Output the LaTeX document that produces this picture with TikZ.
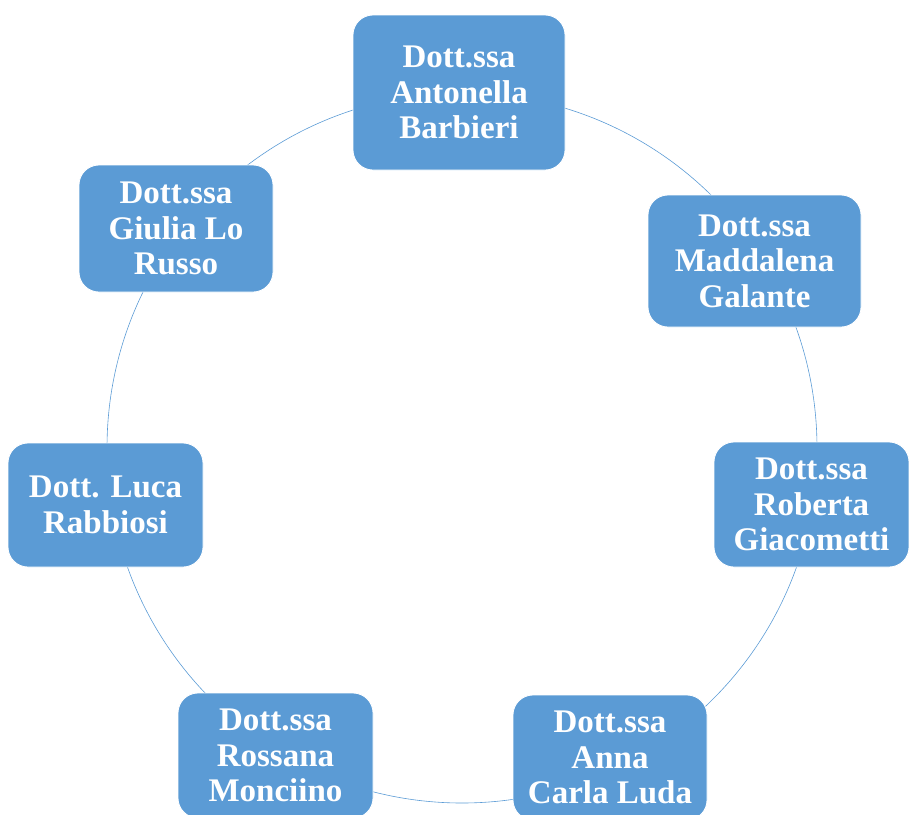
\documentclass[tikz,border=0pt]{standalone}
\usepackage{fontspec}
\setmainfont{Liberation Serif}
\usepackage{tikz}

\definecolor{boxblue}{HTML}{5B9BD5}

\tikzset{
  member/.style={rectangle, rounded corners=20pt, fill=boxblue, draw=white, line width=0.8pt,
    text=white, font=\fontsize{33}{35.5}\selectfont\bfseries, align=center, inner sep=0pt},
  ring/.style={draw=boxblue, line width=0.6pt}
}

\begin{document}
\begin{tikzpicture}[x=1pt,y=-1pt]
\clip (0,0) rectangle (909,814);
\draw[ring] (462,448) circle (355pt);
\node[member, minimum width=212pt, minimum height=155pt] (antonella) at (459,92.5) {Dott.ssa\\Antonella\\Barbieri};
\node[member, minimum width=213pt, minimum height=132pt] (maddalena) at (754.5,261) {Dott.ssa\\Maddalena\\Galante};
\node[member, minimum width=195pt, minimum height=125pt] (roberta) at (811.5,504.5) {Dott.ssa\\Roberta\\Giacometti};
\node[member, minimum width=194pt, minimum height=125pt] (anna) at (610,757.5) {Dott.ssa\\Anna\\Carla Luda};
\node[member, minimum width=195pt, minimum height=125pt] (rossana) at (275.5,755.5) {Dott.ssa\\Rossana\\Monciino};
\node[member, minimum width=195pt, minimum height=124pt] (luca) at (105.5,505) {Dott. Luca\\Rabbiosi};
\node[member, minimum width=194pt, minimum height=127pt] (giulia) at (176,228.5) {Dott.ssa\\Giulia Lo\\Russo};
\end{tikzpicture}
\end{document}
